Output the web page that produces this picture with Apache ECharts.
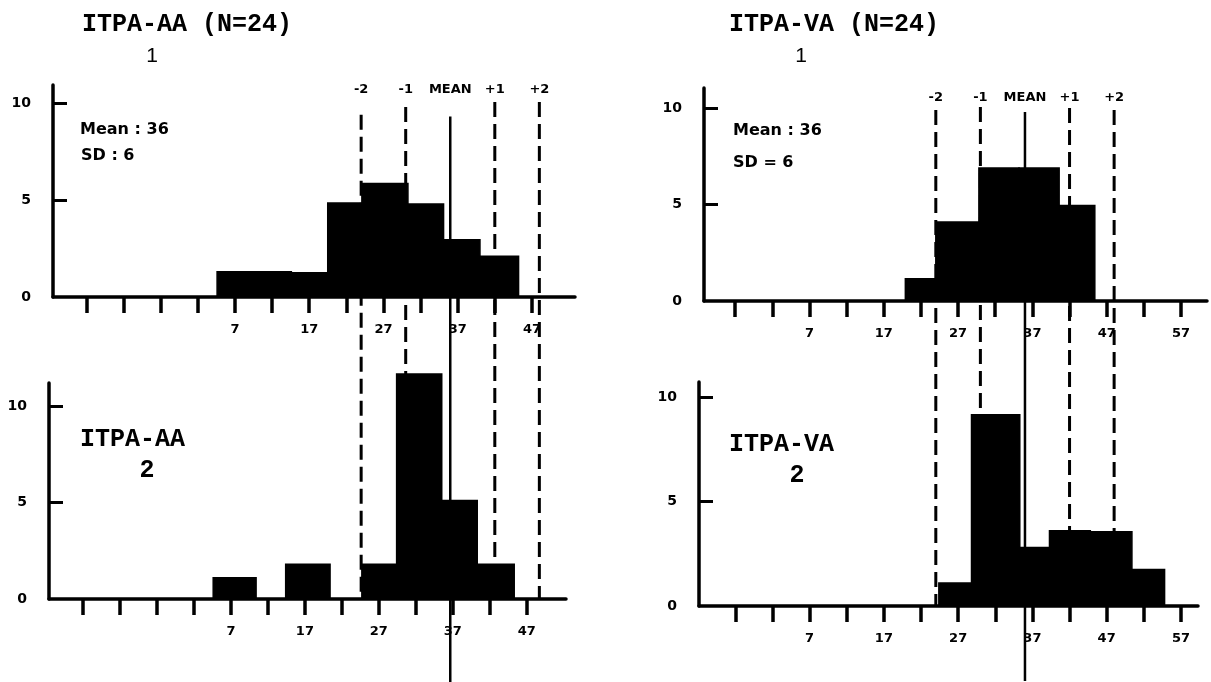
<!DOCTYPE html>
<html>
<head>
<meta charset="utf-8">
<title>ITPA-AA / ITPA-VA</title>
<script src="https://cdn.jsdelivr.net/npm/echarts@6.0.0/dist/echarts.min.js"></script>
<style>
  html, body { margin: 0; padding: 0; background: #fff; }
  #chartBox { width: 1211px; height: 682px; }
</style>
</head>
<body>
<div id="chartBox"></div>
<script>
// score axis ticks / labels
var leftTicks = [-13, -8, -3, 2, 7, 12, 17, 22, 27, 32, 37, 42, 47];
var leftLabels = [7, 17, 27, 37, 47];
var rightTicks = [-3, 2, 7, 12, 17, 22, 27, 32, 37, 42, 47, 52, 57];
var rightLabels = [7, 17, 27, 37, 47, 57];
var countTicks = [5, 10];
var countLabels = [0, 5, 10];

// histograms: bin edges and heights as drawn
var aa1Edges = [4.6, 9.6, 14.6, 19.5, 24.1, 30.3, 35.1, 40.0, 45.2];
var aa1Counts = [1.3, 1.3, 1.25, 4.85, 5.85, 4.8, 2.95, 2.1];

var aa2Edges = [4.6, 10.4, 14.4, 20.4, 24.7, 29.4, 35.5, 40.3, 45.3];
var aa2Counts = [1.1, 0, 1.8, 0, 1.8, 11.65, 5.1, 1.8];

var va1Edges = [19.9, 24.0, 29.8, 35.2, 40.6, 45.4];
var va1Counts = [1.15, 4.1, 6.9, 6.9, 4.95];

var va2Edges = [24.4, 28.8, 35.3, 39.3, 44.8, 50.4, 54.8];
var va2Counts = [1.1, 9.15, 2.8, 3.6, 3.55, 1.75];

// mean 36, SD 6
var sdNames = ["-2", "-1", "MEAN", "+1", "+2"];
var sdValues = [24, 30, 36, 42, 48];

function binData(edges, counts) {
  var d = [];
  for (var i = 0; i < counts.length; i++) {
    d.push([edges[i], edges[i + 1], counts[i]]);
  }
  return d;
}

function histSeries(idx, edges, counts) {
  return {
    type: "custom",
    xAxisIndex: idx,
    yAxisIndex: idx,
    clip: false,
    encode: { x: [0, 1], y: 2 },
    data: binData(edges, counts),
    renderItem: function (params, api) {
      if (api.value(2) <= 0) return null;
      var a = api.coord([api.value(0), api.value(2)]);
      var b = api.coord([api.value(1), 0]);
      return {
        type: "rect",
        shape: { x: a[0], y: a[1], width: b[0] - a[0], height: b[1] - a[1] },
        style: { fill: "#000", stroke: "#000", lineWidth: 1.5 },
      };
    },
  };
}

// lines are drawn from the upper panel down through the lower one
function sdSeries(idx, tops, labelY, dashEnd, meanEnd) {
  return {
    type: "custom",
    xAxisIndex: idx,
    yAxisIndex: idx,
    clip: false,
    z: 5,
    encode: { x: 0, y: 1 },
    data: sdValues.map(function (v, i) { return [v, tops[i], i]; }),
    renderItem: function (params, api) {
      var i = api.value(2);
      var x = api.value(0);
      var isMean = sdNames[i] === "MEAN";
      var p0 = api.coord([x, api.value(1)]);
      var p1 = api.coord([x, isMean ? meanEnd : dashEnd]);
      var pl = api.coord([x, labelY]);
      return {
        type: "group",
        children: [
          {
            type: "line",
            shape: { x1: p0[0], y1: p0[1], x2: p1[0], y2: p1[1] },
            style: { stroke: "#000", lineWidth: isMean ? 2.5 : 3, lineDash: isMean ? null : [15, 7] },
          },
          {
            type: "text",
            x: pl[0],
            y: pl[1],
            style: {
              text: sdNames[i],
              font: 'bold 13px "DejaVu Sans"',
              fill: "#000",
              align: "center",
              verticalAlign: "middle",
            },
          },
        ],
      };
    },
  };
}

function makeX(grid, min, max, ticks, labels) {
  return {
    type: "value",
    gridIndex: grid,
    min: min,
    max: max,
    splitLine: { show: false },
    axisLine: { onZero: false, lineStyle: { color: "#000", width: 3.5 } },
    axisTick: { customValues: ticks, length: 16, lineStyle: { color: "#000", width: 3.5 } },
    axisLabel: {
      customValues: labels,
      margin: 26,
      color: "#000",
      fontSize: 13,
      fontWeight: "bold",
      fontFamily: "DejaVu Sans",
    },
  };
}

function makeY(grid, max) {
  return {
    type: "value",
    gridIndex: grid,
    min: 0,
    max: max,
    splitLine: { show: false },
    axisLine: { onZero: false, lineStyle: { color: "#000", width: 3.5 } },
    axisTick: { customValues: countTicks, inside: true, length: 14, lineStyle: { color: "#000", width: 3 } },
    axisLabel: {
      customValues: countLabels,
      margin: 22,
      color: "#000",
      fontSize: 14,
      fontWeight: "bold",
      fontFamily: "DejaVu Sans",
    },
  };
}

function txt(x, y, text, font, align) {
  return {
    type: "text",
    x: x,
    y: y,
    style: {
      text: text,
      font: font,
      fill: "#000",
      align: align || "left",
      textAlign: align || "left",
      verticalAlign: "middle",
      textVerticalAlign: "middle",
    },
  };
}

var mono = 'bold 25px "Liberation Mono"';
var hand = 'bold 16px "DejaVu Sans"';

var option = {
  backgroundColor: "#fff",
  animation: false,
  grid: [
    { left: 53, top: 85, width: 522, height: 212 },
    { left: 49, top: 383, width: 517, height: 216 },
    { left: 704, top: 88, width: 503, height: 213 },
    { left: 699, top: 382, width: 499, height: 224 },
  ],
  xAxis: [
    makeX(0, -17.5, 52.8, leftTicks, leftLabels),
    makeX(1, -17.6, 52.3, leftTicks, leftLabels),
    makeX(2, -7.2, 60.5, rightTicks, rightLabels),
    makeX(3, -7.9, 59.3, rightTicks, rightLabels),
  ],
  yAxis: [makeY(0, 10.93), makeY(1, 11.19), makeY(2, 11.04), makeY(3, 10.72)],
  series: [
    histSeries(0, aa1Edges, aa1Counts),
    histSeries(1, aa2Edges, aa2Counts),
    histSeries(2, va1Edges, va1Counts),
    histSeries(3, va2Edges, va2Counts),
    sdSeries(0, [9.4, 9.8, 9.3, 10.05, 10.05], 10.67, -15.6, -19.85),
    sdSeries(2, [9.9, 10.05, 9.8, 10.0, 9.9], 10.52, -15.8, -19.7),
  ],
  graphic: [
    txt(82, 25, "ITPA-AA (N=24)", mono),
    txt(152, 56, "1", '21px "Liberation Sans"', "center"),
    txt(729, 25, "ITPA-VA (N=24)", mono),
    txt(801, 56, "1", '21px "Liberation Sans"', "center"),
    txt(80, 440, "ITPA-AA", mono),
    txt(147, 471, "2", mono, "center"),
    txt(729, 445, "ITPA-VA", mono),
    txt(797, 476, "2", mono, "center"),
    txt(80, 130, "Mean : 36", hand),
    txt(81, 156, "SD : 6", hand),
    txt(733, 131, "Mean : 36", hand),
    txt(733, 163, "SD = 6", hand),
  ],
};

var chartBox = echarts.init(document.getElementById("chartBox"));
chartBox.setOption(option);
</script>
</body>
</html>
